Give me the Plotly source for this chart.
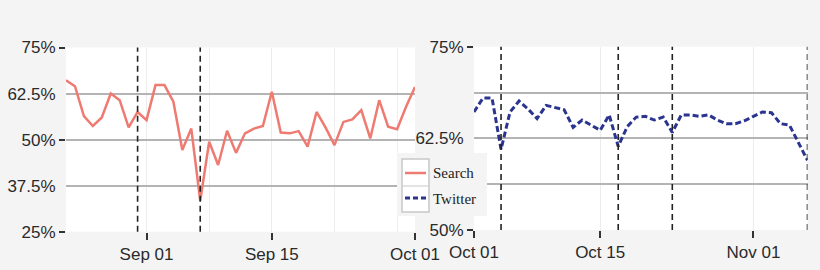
import pandas as pd
import plotly.graph_objects as go

# ---------------- data ----------------
search_start = "2013-08-23"
search_values = [66.1, 64.5, 56.4, 53.7, 56.0, 62.5, 60.7, 53.3, 57.5, 55.3,
                 64.8, 64.8, 60.3, 47.2, 53.0, 33.4, 49.4, 43.1, 52.4, 46.4,
                 51.7, 53.0, 53.7, 63.0, 51.9, 51.7, 52.3, 48.1, 57.5, 53.3,
                 48.5, 54.8, 55.5, 58.0, 50.3, 60.7, 53.5, 52.8, 58.9, 64.3]

twitter_start = "2013-10-01"
twitter_values = [66.1, 68.0, 68.0, 61.0, 66.1, 67.6, 66.5, 65.2, 67.0, 66.7,
                  66.4, 64.0, 65.0, 64.3, 63.6, 65.7, 61.4, 64.1, 65.4, 65.5,
                  65.0, 65.4, 63.3, 65.7, 65.7, 65.5, 65.7, 65.0, 64.5, 64.5,
                  64.9, 65.5, 66.1, 66.0, 64.5, 64.3, 62.0, 59.5]

left_events = ["2013-08-31", "2013-09-07"]
right_events = ["2013-10-04", "2013-10-17", "2013-10-23", "2013-11-07"]

left_ticks = ["2013-09-01", "2013-09-15", "2013-10-01"]
left_minor = ["2013-09-08", "2013-09-22", "2013-09-29"]
right_ticks = ["2013-10-01", "2013-10-15", "2013-11-01"]

left_yvals = [25, 37.5, 50, 62.5, 75]
left_ytext = ["25%", "37.5%", "50%", "62.5%", "75%"]
right_yvals = [50, 56.25, 62.5, 68.75, 75]
right_ytext = ["50%", "", "62.5%", "", "75%"]

series_names = ["Search", "Twitter"]

search_dates = pd.date_range(search_start, periods=len(search_values), freq="D")
twitter_dates = pd.date_range(twitter_start, periods=len(twitter_values), freq="D")

# ---------------- styles ----------------
W, H = 820, 270
BG = "#f4f4f4"
GRID = "#b4b4b4"
SEARCH_C = "#ef7a72"
TWITTER_C = "#2b3590"
TXT = "#2a2a2a"

def px(x):
    return x / W

def py(y):
    return 1 - y / H

fig = go.Figure()
fig.add_trace(go.Scatter(x=search_dates, y=search_values, mode="lines",
                         name=series_names[0], xaxis="x", yaxis="y",
                         line=dict(color=SEARCH_C, width=2.5), showlegend=False))
fig.add_trace(go.Scatter(x=twitter_dates, y=twitter_values, mode="lines",
                         name=series_names[1], xaxis="x2", yaxis="y2",
                         line=dict(color=TWITTER_C, width=3, dash="6px,3px"),
                         showlegend=False))

tickfont = dict(family="Liberation Sans, Arial, sans-serif", size=17, color=TXT)

xcommon = dict(type="date", tickformat="%b %d", tickmode="array", automargin=False,
               ticks="outside", ticklen=7, tickwidth=1.5, tickcolor="#333",
               showgrid=True, gridcolor="#ececec", gridwidth=1,
               showline=False, zeroline=False, tickfont=tickfont)

fig.update_layout(
    width=W, height=H,
    margin=dict(l=0, r=0, t=0, b=0),
    paper_bgcolor=BG, plot_bgcolor="white",
    showlegend=False,
    xaxis=dict(xcommon, domain=[px(66), px(415)],
               range=[search_dates[0], search_dates[-1]],
               tickvals=left_ticks, anchor="y",
               minor=dict(tickmode="array", tickvals=left_minor, showgrid=True,
                          gridcolor="#efefef", ticks="")),
    yaxis=dict(domain=[py(231.7), py(47.5)], range=[25, 75], anchor="x",
               automargin=False,
               tickmode="array", tickvals=left_yvals, ticktext=left_ytext,
               ticks="outside", ticklen=6, tickcolor="rgba(0,0,0,0)",
               showgrid=True, gridcolor=GRID, gridwidth=1.5,
               zeroline=False, showline=False, tickfont=tickfont,
               minor=dict(tickmode="array", tickvals=[25, 50, 75], ticks="outside",
                          ticklen=6, tickwidth=2, tickcolor="#333", showgrid=False)),
    xaxis2=dict(xcommon, domain=[px(474), px(807.5)],
                range=[twitter_dates[0], twitter_dates[-1]],
                tickvals=right_ticks, anchor="y2"),
    yaxis2=dict(domain=[py(230), py(46.7)], range=[50, 75], anchor="x2",
                automargin=False,
                tickmode="array", tickvals=right_yvals, ticktext=right_ytext,
                ticks="outside", ticklen=6, tickcolor="rgba(0,0,0,0)",
                showgrid=True, gridcolor=GRID, gridwidth=1.5,
                zeroline=False, showline=False, tickfont=tickfont,
                minor=dict(tickmode="array", tickvals=[50, 75], ticks="outside",
                           ticklen=6, tickwidth=2, tickcolor="#333", showgrid=False)),
)

shapes = []
for d in left_events:
    shapes.append(dict(type="line", xref="x", yref="y domain", x0=d, x1=d, y0=0, y1=1,
                       line=dict(color="#222", width=1.6, dash="6px,4px"), layer="above"))
for d in right_events:
    shapes.append(dict(type="line", xref="x2", yref="y2 domain", x0=d, x1=d, y0=0, y1=1,
                       line=dict(color="#222", width=1.6, dash="6px,4px"), layer="above"))

# legend panel (drawn manually: box around the symbols, labels to the right)
shapes.append(dict(type="rect", xref="paper", yref="paper",
                   x0=px(397), x1=px(487), y0=py(216), y1=py(153),
                   fillcolor=BG, line=dict(width=0), layer="above"))
shapes.append(dict(type="rect", xref="paper", yref="paper",
                   x0=px(402), x1=px(429), y0=py(212), y1=py(159),
                   fillcolor="white", line=dict(color="#c8c8c8", width=1.5), layer="above"))
shapes.append(dict(type="line", xref="paper", yref="paper",
                   x0=px(402), x1=px(429), y0=py(186), y1=py(186),
                   line=dict(color="#d0d0d0", width=1.2), layer="above"))
shapes.append(dict(type="line", xref="paper", yref="paper",
                   x0=px(405), x1=px(426), y0=py(173), y1=py(173),
                   line=dict(color=SEARCH_C, width=2.5), layer="above"))
shapes.append(dict(type="line", xref="paper", yref="paper",
                   x0=px(405), x1=px(427), y0=py(198), y1=py(198),
                   line=dict(color=TWITTER_C, width=3, dash="5px,3px"), layer="above"))
fig.update_layout(shapes=shapes)

legfont = dict(family="Liberation Serif, Times New Roman, serif", size=15, color="#222")
fig.add_annotation(xref="paper", yref="paper", x=px(431), y=py(173), text=series_names[0],
                   showarrow=False, xanchor="left", yanchor="middle", font=legfont)
fig.add_annotation(xref="paper", yref="paper", x=px(431), y=py(199), text=series_names[1],
                   showarrow=False, xanchor="left", yanchor="middle", font=legfont)

fig.write_html("out.html")
